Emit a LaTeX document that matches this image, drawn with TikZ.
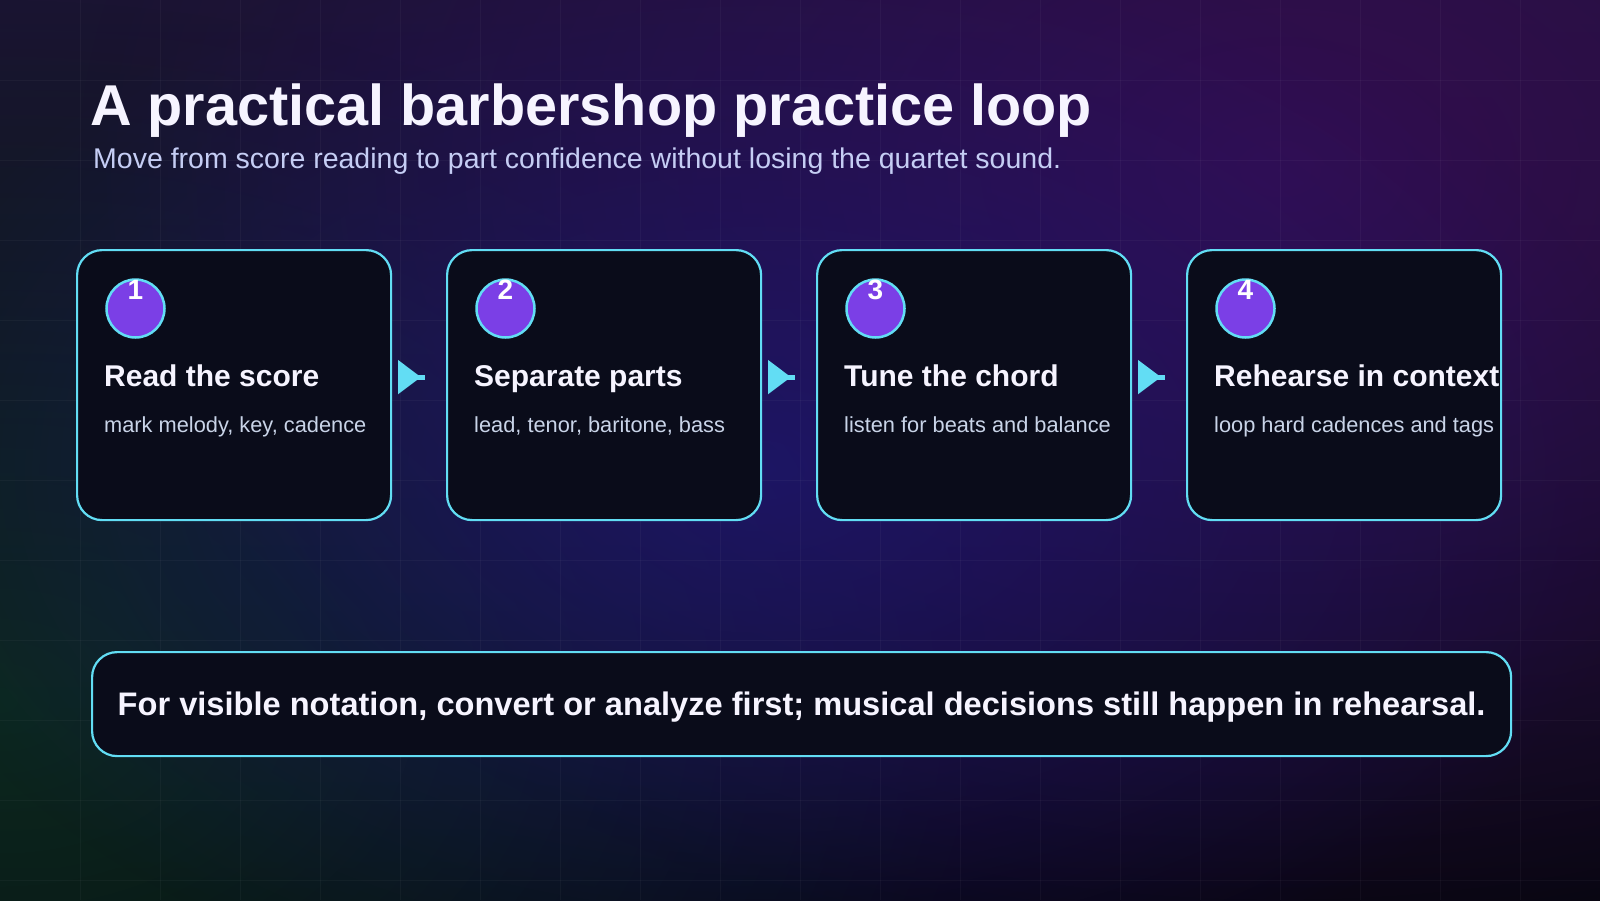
\documentclass[tikz,border=0pt]{standalone}
\usepackage{fontspec}
\setmainfont{Liberation Sans}
\usetikzlibrary{calc,arrows.meta,fadings}
\definecolor{bgtop}{HTML}{1A1432}
\definecolor{bgbot}{HTML}{07060F}
\definecolor{glowpurple}{HTML}{330D50}
\definecolor{glowindigo}{HTML}{1C1878}
\definecolor{glowgreen}{HTML}{0C2E20}
\definecolor{edgecyan}{HTML}{62DDF4}
\definecolor{cardfill}{HTML}{0A0C1A}
\definecolor{badge}{HTML}{7B3FE6}
\definecolor{titlewhite}{HTML}{F6F4FF}
\definecolor{subtext}{HTML}{C5CDF4}
\definecolor{desctext}{HTML}{C9D4E8}
\tikzfading[name=glowfade, inner color=transparent!0, outer color=transparent!100]
\tikzset{
  card/.style={draw=edgecyan, line width=2.2pt, fill=cardfill, rounded corners=25pt,
    minimum width=314pt, minimum height=270pt, anchor=north west, inner sep=0pt},
  badgecirc/.style={circle, draw=edgecyan, line width=2.5pt, fill=badge, minimum size=58pt, inner sep=0pt},
  badgenum/.style={text=white, font=\bfseries\fontsize{28}{30}\selectfont, anchor=base, inner sep=0pt},
  cardtitle/.style={text=titlewhite, font=\bfseries\fontsize{30}{32}\selectfont, anchor=base west, inner sep=0pt},
  carddesc/.style={text=desctext, font=\fontsize{21.8}{24}\selectfont, anchor=base west, inner sep=0pt},
  flow/.style={draw=edgecyan, line width=5pt, -{Triangle[length=23pt,width=33pt]Rectangle[length=4pt,width=5pt]}},
  gridline/.style={draw=white, draw opacity=0.035, line width=1pt},
  notebox/.style={draw=edgecyan, line width=2.2pt, fill=cardfill, rounded corners=25pt,
    minimum width=1419pt, minimum height=104pt, anchor=north west, inner sep=0pt,
    text=titlewhite, font=\bfseries\fontsize{32.6}{34}\selectfont, text height=23pt, text depth=0pt}
}
\begin{document}
\begin{tikzpicture}[x=1pt,y=-1pt]
\useasboundingbox (0,0) rectangle (1600,900);
% background
\shade[top color=bgtop, bottom color=bgbot] (0,0) rectangle (1600,900);
\begin{scope}
\clip (0,0) rectangle (1600,900);
\fill[glowgreen, fill opacity=0.85, path fading=glowfade] (0,700) ellipse (1000 and 700);
\fill[glowpurple, path fading=glowfade] (1280,170) ellipse (1200 and 800);
\fill[glowindigo, fill opacity=0.7, path fading=glowfade] (760,470) ellipse (900 and 560);
\foreach \gx in {80,160,...,1560} {\draw[gridline] (\gx,0) -- (\gx,900);}
\foreach \gy in {80,160,...,880} {\draw[gridline] (0,\gy) -- (1600,\gy);}
\end{scope}
% heading
\node[anchor=base west, inner sep=0pt, text=titlewhite, font=\bfseries\fontsize{57.6}{60}\selectfont] (title) at (90,125) {A practical barbershop practice loop};
\node[anchor=base west, inner sep=0pt, text=subtext, font=\fontsize{28.5}{30}\selectfont] (subtitle) at (93,168) {Move from score reading to part confidence without losing the quartet sound.};
% cards
\foreach \i/\x/\t/\d in {1/76/Read the score/{mark melody, key, cadence},
                          2/446/Separate parts/{lead, tenor, baritone, bass},
                          3/816/Tune the chord/listen for beats and balance,
                          4/1186/Rehearse in context/loop hard cadences and tags} {
  \node[card] (b\i) at (\x,249) {};
  \node[badgecirc] (c\i) at ($(b\i.north west)+(59.5,59.5)$) {};
  \node[badgenum] (n\i) at ($(b\i.north west)+(59.5,50)$) {\i};
  \node[cardtitle] (t\i) at ($(b\i.north west)+(28,137)$) {\t};
  \node[carddesc] (d\i) at ($(b\i.north west)+(28,183)$) {\d};
}
% connectors
\foreach \a/\b in {1/2,2/3,3/4} {
  \draw[flow] ($(b\a.east)+(8,-8)$) -- ($(b\b.west)+(-21,-8)$);
}
% note
\node[notebox] (note) at (91,651) {For visible notation, convert or analyze first; musical decisions still happen in rehearsal.};
\end{tikzpicture}
\end{document}
